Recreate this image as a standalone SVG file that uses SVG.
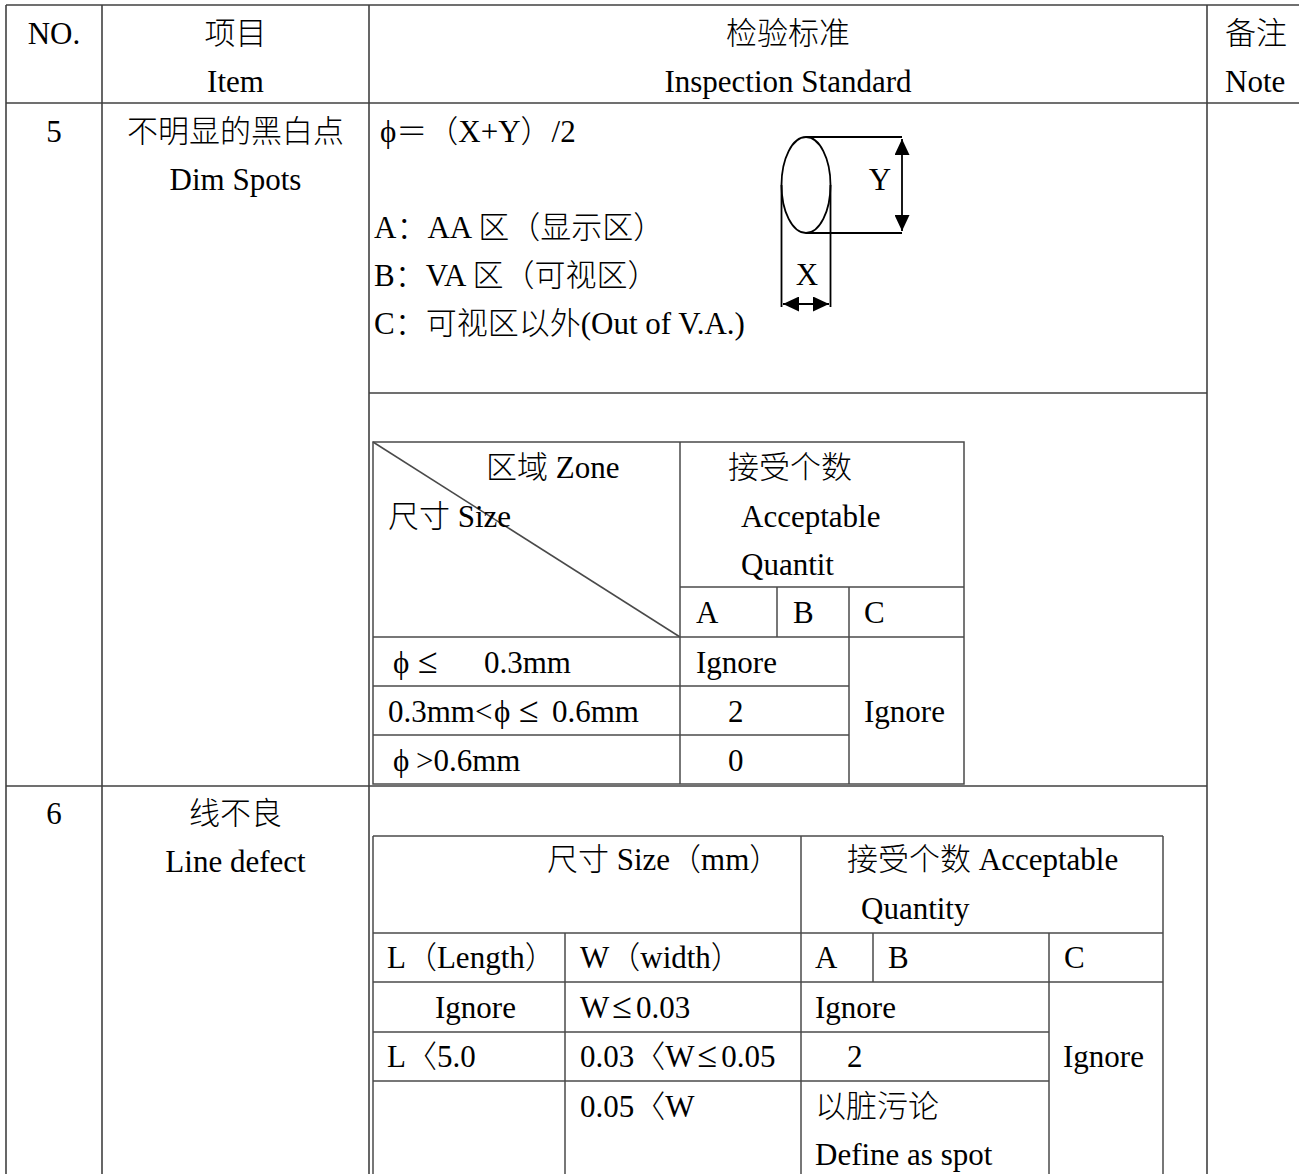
<svg xmlns="http://www.w3.org/2000/svg" width="1299" height="1174" viewBox="0 0 1299 1174">
<style>
  .t { font-family: "Liberation Serif", "Noto Sans CJK SC", serif; font-size: 31px; font-weight: 300; fill: #000; }
  .c { text-anchor: middle; }
  .le { font-size: 36px; }
  .grid line, .grid rect { stroke: #404040; stroke-width: 1.6; fill: none; }
  .inner line, .inner rect { stroke: #4a4a4a; stroke-width: 1.5; fill: none; }
  .fig { stroke: #000; stroke-width: 1.8; fill: none; }
</style>
<defs>
  <marker id="ah" viewBox="0 0 16 15" refX="16" refY="7.5" markerWidth="16" markerHeight="15" markerUnits="userSpaceOnUse" orient="auto-start-reverse">
    <path d="M0,0 L16,7.5 L0,15 z" fill="#000"/>
  </marker>
</defs>
<rect width="1299" height="1174" fill="#fff"/>

<g id="outer-grid" class="grid">
  <line x1="6" y1="5" x2="1299" y2="5"/>
  <line x1="6" y1="103" x2="1299" y2="103"/>
  <line x1="6" y1="786" x2="1207" y2="786"/>
  <line x1="369" y1="393" x2="1207" y2="393"/>
  <line x1="6" y1="5" x2="6" y2="1174"/>
  <line x1="102" y1="5" x2="102" y2="1174"/>
  <line x1="369" y1="5" x2="369" y2="1174"/>
  <line x1="1207" y1="5" x2="1207" y2="1174"/>
</g>

<g id="header">
  <text class="t c" x="54" y="44">NO.</text>
  <text class="t c" x="235.5" y="44">项目</text>
  <text class="t c" x="235.5" y="92">Item</text>
  <text class="t c" x="788" y="44">检验标准</text>
  <text class="t c" x="788" y="92">Inspection Standard</text>
  <text class="t" x="1225" y="44">备注</text>
  <text class="t" x="1225" y="92">Note</text>
</g>

<g id="row5">
  <text class="t c" x="54" y="142">5</text>
  <text class="t c" x="235.5" y="142">不明显的黑白点</text>
  <text class="t c" x="235.5" y="190">Dim Spots</text>
  <text class="t" x="380" y="142">ϕ＝（X+Y）/2</text>
  <text class="t" x="374" y="238">A：AA 区（显示区）</text>
  <text class="t" x="374" y="286">B：VA 区（可视区）</text>
  <text class="t" x="374" y="334">C：可视区以外(Out of V.A.)</text>
</g>

<g id="spot-figure">
  <ellipse class="fig" cx="806" cy="185" rx="24.5" ry="48"/>
  <line class="fig" x1="806" y1="137" x2="902" y2="137"/>
  <line class="fig" x1="806" y1="233" x2="902" y2="233"/>
  <line class="fig" x1="902" y1="139" x2="902" y2="231" marker-start="url(#ah)" marker-end="url(#ah)"/>
  <line class="fig" x1="781.5" y1="185" x2="781.5" y2="307"/>
  <line class="fig" x1="830.5" y1="185" x2="830.5" y2="307"/>
  <line class="fig" x1="783" y1="304" x2="829" y2="304" marker-start="url(#ah)" marker-end="url(#ah)"/>
  <text class="t c" x="880" y="190">Y</text>
  <text class="t c" x="807" y="285">X</text>
</g>

<g id="table-dim-spots">
  <g class="inner">
    <rect x="373" y="442" width="591" height="342"/>
    <line x1="680" y1="442" x2="680" y2="784"/>
    <line x1="680" y1="587" x2="964" y2="587"/>
    <line x1="777" y1="587" x2="777" y2="637"/>
    <line x1="849" y1="587" x2="849" y2="784"/>
    <line x1="373" y1="637" x2="964" y2="637"/>
    <line x1="373" y1="686" x2="849" y2="686"/>
    <line x1="373" y1="735" x2="849" y2="735"/>
    <line x1="373" y1="442" x2="680" y2="637"/>
  </g>
  <text class="t" x="486" y="478">区域 Zone</text>
  <text class="t" x="388" y="527">尺寸 Size</text>
  <text class="t" x="728" y="478">接受个数</text>
  <text class="t" x="741" y="527">Acceptable</text>
  <text class="t" x="741" y="575">Quantit</text>
  <text class="t" x="696" y="623">A</text>
  <text class="t" x="793" y="623">B</text>
  <text class="t" x="864" y="623">C</text>
  <text class="t" x="393" y="673">ϕ<tspan class="le" x="418">≤</tspan><tspan x="484">0.3mm</tspan></text>
  <text class="t" x="696" y="673">Ignore</text>
  <text class="t" x="388" y="722">0.3mm&lt;<tspan x="494">ϕ</tspan><tspan class="le" x="519">≤</tspan><tspan x="552">0.6mm</tspan></text>
  <text class="t" x="728" y="722">2</text>
  <text class="t" x="864" y="722">Ignore</text>
  <text class="t" x="393" y="771">ϕ<tspan x="416">&gt;0.6mm</tspan></text>
  <text class="t" x="728" y="771">0</text>
</g>

<g id="row6">
  <text class="t c" x="54" y="824">6</text>
  <text class="t c" x="235.5" y="824">线不良</text>
  <text class="t c" x="235.5" y="872">Line defect</text>
</g>

<g id="table-line-defect">
  <g class="inner">
    <line x1="373" y1="836" x2="1163" y2="836"/>
    <line x1="373" y1="836" x2="373" y2="1174"/>
    <line x1="1163" y1="836" x2="1163" y2="1174"/>
    <line x1="801" y1="836" x2="801" y2="1174"/>
    <line x1="373" y1="933" x2="1163" y2="933"/>
    <line x1="565" y1="933" x2="565" y2="1174"/>
    <line x1="873" y1="933" x2="873" y2="982"/>
    <line x1="1049" y1="933" x2="1049" y2="1174"/>
    <line x1="373" y1="982" x2="1163" y2="982"/>
    <line x1="373" y1="1032" x2="1049" y2="1032"/>
    <line x1="373" y1="1081" x2="1049" y2="1081"/>
  </g>
  <text class="t" x="547" y="870">尺寸 Size（mm）</text>
  <text class="t" x="847" y="870">接受个数 Acceptable</text>
  <text class="t" x="861" y="919">Quantity</text>
  <text class="t" x="387" y="968">L（Length）</text>
  <text class="t" x="580" y="968">W（width）</text>
  <text class="t" x="815" y="968">A</text>
  <text class="t" x="888" y="968">B</text>
  <text class="t" x="1064" y="968">C</text>
  <text class="t" x="435" y="1018">Ignore</text>
  <text class="t" x="580" y="1018">W<tspan class="le" dx="3">≤</tspan><tspan dx="4">0.03</tspan></text>
  <text class="t" x="815" y="1018">Ignore</text>
  <text class="t" x="387" y="1067">L〈5.0</text>
  <text class="t" x="580" y="1067">0.03〈W<tspan class="le" dx="3">≤</tspan><tspan dx="4">0.05</tspan></text>
  <text class="t" x="847" y="1067">2</text>
  <text class="t" x="1063" y="1067">Ignore</text>
  <text class="t" x="580" y="1117">0.05〈W</text>
  <text class="t" x="815" y="1117">以脏污论</text>
  <text class="t" x="815" y="1165">Define as spot</text>
</g>
</svg>
